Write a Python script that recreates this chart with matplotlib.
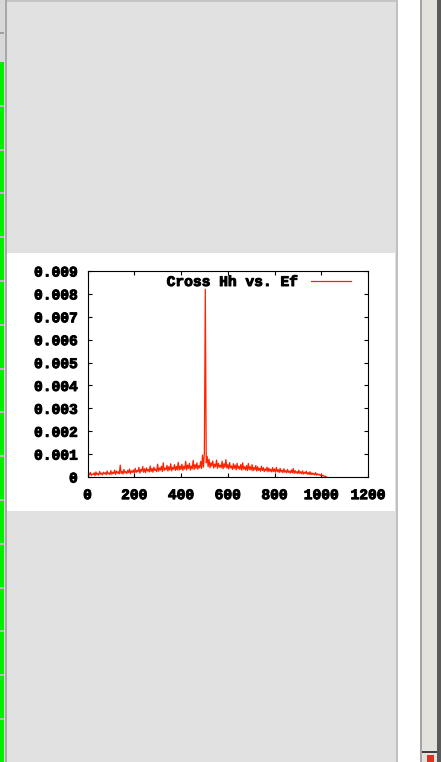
import numpy as np
import matplotlib
matplotlib.use("Agg")
import matplotlib.pyplot as plt
import matplotlib.transforms as mtransforms
import matplotlib.patheffects as pe
from matplotlib.patches import Rectangle

# ---------------- data ----------------
freq_step = 4
# cross power (units of 1e-6), x = 0,4,8,...,1024
power_e6 = [
    60, 150, 90, 200, 70, 130, 110, 180, 60, 220, 100, 160, 80, 240, 120, 170, 90, 210, 140, 190, 100, 260, 130, 180, 110,
    280, 120, 210, 150, 300, 110, 260, 170, 230, 140, 520, 160, 250, 130, 330, 180, 240, 150, 290, 190, 350, 140, 270, 200, 310,
    180, 380, 200, 290, 230, 420, 170, 330, 250, 460, 210, 360, 190, 400, 260, 340, 220, 480, 240, 370, 210, 430, 280, 350, 230,
    560, 250, 400, 300, 470, 240, 620, 280, 390, 320, 510, 260, 450, 300, 580, 270, 420, 340, 540, 290, 460, 310, 640, 300, 480,
    330, 560, 290, 470, 350, 690, 310, 520, 370, 600, 300, 480, 360, 730, 330, 540, 380, 620, 340, 500, 400, 680, 370, 960, 430,
    1040, 8200, 620, 900, 450, 780, 400, 620, 480, 700, 390, 560, 450, 740, 380, 600, 430, 520, 400, 690, 360, 580, 420, 760, 390,
    540, 350, 630, 400, 480, 330, 580, 370, 520, 310, 600, 360, 470, 330, 550, 300, 620, 340, 450, 310, 500, 280, 590, 320, 460,
    300, 540, 270, 420, 310, 500, 260, 450, 290, 380, 250, 470, 280, 410, 240, 360, 270, 430, 230, 390, 250, 340, 220, 410, 240,
    350, 210, 420, 230, 320, 200, 380, 220, 300, 190, 360, 210, 280, 180, 330, 200, 260, 170, 310, 180, 370, 160, 280, 170, 240,
    150, 300, 160, 230, 140, 270, 130, 210, 150, 250, 120, 200, 110, 230, 100, 180, 110, 160, 90, 190, 80, 140, 90, 120, 60,
    110, 50, 80, 30, 40, 10, 0,
]
series_label = "Cross Hh vs. Ef"
x_ticks = [0, 200, 400, 600, 800, 1000, 1200]
y_ticks = [0, 0.001, 0.002, 0.003, 0.004, 0.005, 0.006, 0.007, 0.008, 0.009]
y_tick_labels = ["0", "0.001", "0.002", "0.003", "0.004", "0.005", "0.006", "0.007", "0.008", "0.009"]

x = np.arange(len(power_e6)) * freq_step
y = np.array(power_e6) * 1e-6

# ---------------- figure / GUI frame ----------------
W, H = 441, 762
fig = plt.figure(figsize=(W / 100, H / 100), dpi=100)
fig.patch.set_facecolor("#e1e1e1")

def px_rect(x0, y0, x1, y1, color, z=0):
    fig.patches.append(Rectangle((x0 / W, 1 - y1 / H), (x1 - x0) / W, (y1 - y0) / H,
                                 transform=fig.transFigure, facecolor=color,
                                 edgecolor="none", zorder=z))

# left green strip with separators
px_rect(0, 0, 5, H, "#d8d8d8")
px_rect(0, 62, 4, H, "#00f000")
yy = 62 + 43.8
while yy < H:
    px_rect(0, yy - 1, 4, yy + 1, "#b8b8b8", 1)
    yy += 43.8
px_rect(0, 32, 4, 34, "#a0a0a0", 1)
px_rect(5, 0, 7, H, "#a8a8a8")
# top border
px_rect(7, 0, 397, 2, "#c4c4c4")
# right side: white strip + scrollbar
px_rect(396, 0, 398, H, "#c0c0c0")
px_rect(398, 0, 420, H, "#ffffff")
px_rect(420, 0, 422, H, "#a4a4a4")
px_rect(422, 0, 437, H, "#e3e2dc")
px_rect(437, 0, 441, H, "#5a5a5a")
px_rect(422, 751, 437, 753, "#404040", 1)
px_rect(427, 755, 434, H, "#e03020", 1)

# white chart panel
px_rect(7, 253, 395, 511, "#ffffff")

# ---------------- chart ----------------
left, right, top, bottom = 87.5, 368.0, 271.0, 477.0
ax = fig.add_axes([left / W, 1 - bottom / H, (right - left) / W, (bottom - top) / H])
ax.set_zorder(10)
ax.set_facecolor("#ffffff")

line_color = "#ff2200"
ax.plot(x, y, color=line_color, lw=0.9, label=series_label)

ax.set_xlim(0, 1200)
ax.set_ylim(0, 0.009)
ax.set_xticks(x_ticks)
ax.set_xticklabels([str(v) for v in x_ticks])
ax.set_yticks(y_ticks)
ax.set_yticklabels(y_tick_labels)

fam = ["Liberation Mono", "DejaVu Sans Mono"]
bold_fx = [pe.withStroke(linewidth=0.7, foreground="#000000")]
shift = mtransforms.ScaledTranslation(4 / 100, 0, fig.dpi_scale_trans)
for lab in ax.get_xticklabels() + ax.get_yticklabels():
    lab.set_fontfamily(fam)
    lab.set_fontweight("bold")
    lab.set_fontsize(10.5)
    lab.set_color("#000000")
    lab.set_path_effects(bold_fx)
for lab in ax.get_xticklabels():
    lab.set_transform(lab.get_transform() + shift)

ax.tick_params(direction="in", length=3.2, width=0.8, top=True, right=True, color="#000000")
ax.tick_params(axis="y", pad=7)
ax.tick_params(axis="x", pad=8)
for s in ax.spines.values():
    s.set_linewidth(0.8)
    s.set_color("#000000")

leg = ax.legend(loc="center right",
                bbox_to_anchor=((351 - left) / (right - left), (bottom - 282) / (bottom - top)),
                frameon=False, markerfirst=False, borderpad=0, borderaxespad=0,
                handlelength=2.74, handletextpad=0.9,
                prop=dict(family=fam, weight="bold", size=10.5))
for t in leg.get_texts():
    t.set_path_effects(bold_fx)
for h in leg.get_lines():
    h.set_linewidth(0.9)

fig.savefig("out.png", dpi=100, facecolor=fig.get_facecolor())
